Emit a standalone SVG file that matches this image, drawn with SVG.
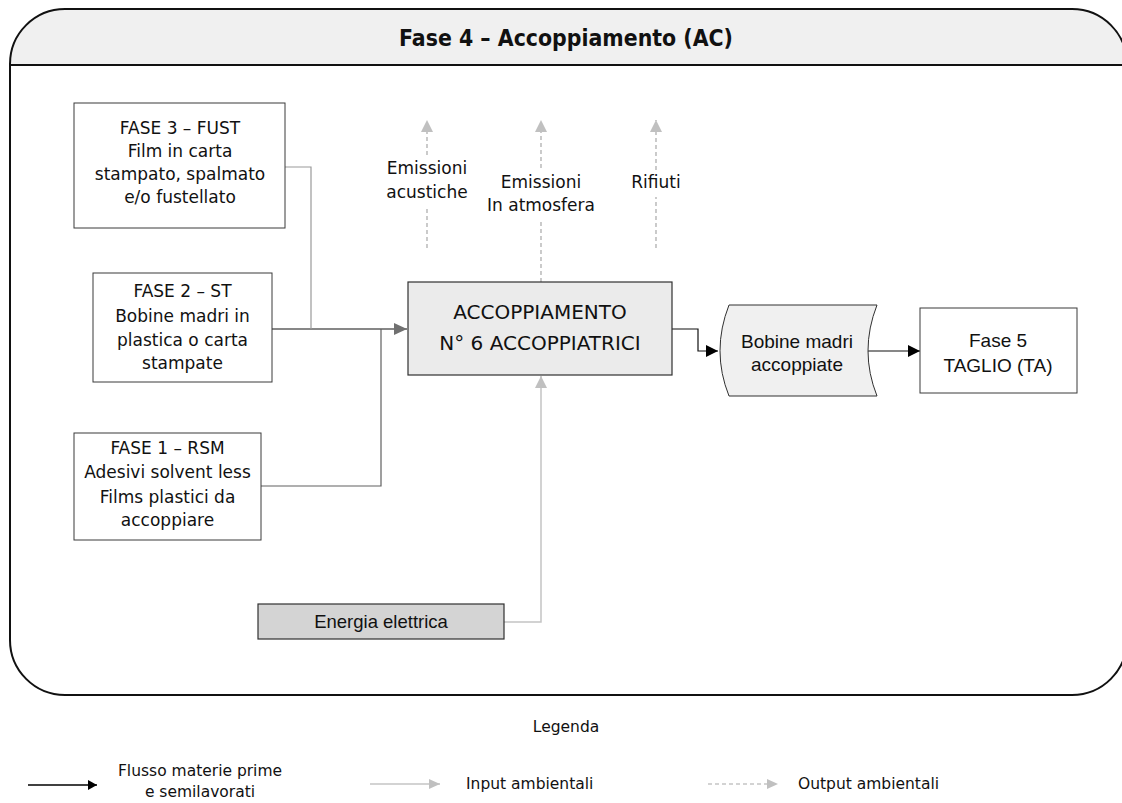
<svg xmlns="http://www.w3.org/2000/svg" width="1122" height="803" viewBox="0 0 1122 803">
  <style>
    .box { fill: #ffffff; stroke: #3a3a3a; stroke-width: 1; }
    .main { fill: #ebebeb; stroke: #303030; stroke-width: 1.2; }
    .grey { fill: #d4d4d4; stroke: #303030; stroke-width: 1.2; }
    .store { fill: #f0f0f0; stroke: #303030; stroke-width: 1; }
    .t { font-family: "DejaVu Sans", Verdana, sans-serif; font-size: 17px; fill: #111; text-anchor: middle; }
    .tm { font-family: "DejaVu Sans", Verdana, sans-serif; font-size: 20px; fill: #111; text-anchor: middle; }
    .ta { font-family: "Liberation Sans", Arial, sans-serif; font-size: 19px; fill: #111; text-anchor: middle; }
    .tl { font-family: "DejaVu Sans", Verdana, sans-serif; font-size: 15.5px; fill: #111; }
    .flow { fill: none; stroke: #111; stroke-width: 1.2; }
    .in { fill: none; stroke: #c4c4c4; stroke-width: 1.5; }
    .out { fill: none; stroke: #a8a8a8; stroke-width: 1.2; stroke-dasharray: 4 3; }
  </style>
  <defs>
    <marker id="aBlack" markerUnits="userSpaceOnUse" markerWidth="12" markerHeight="12" refX="12" refY="6" orient="auto">
      <path d="M0,0 L12,6 L0,12 z" fill="#000"/>
    </marker>
    <marker id="aDark" markerUnits="userSpaceOnUse" markerWidth="13" markerHeight="12" refX="13" refY="6" orient="auto">
      <path d="M0,0 L13,6 L0,12 z" fill="#707070"/>
    </marker>
    <marker id="aLight" markerUnits="userSpaceOnUse" markerWidth="12" markerHeight="12" refX="12" refY="6" orient="auto">
      <path d="M0,0 L12,6 L0,12 z" fill="#c0c0c0"/>
    </marker>
    <marker id="aBlackS" markerUnits="userSpaceOnUse" markerWidth="9" markerHeight="10" refX="9" refY="5" orient="auto">
      <path d="M0,0 L9,5 L0,10 z" fill="#000"/>
    </marker>
    <marker id="aLightS" markerUnits="userSpaceOnUse" markerWidth="11" markerHeight="10" refX="11" refY="5" orient="auto">
      <path d="M0,0 L11,5 L0,10 z" fill="#c0c0c0"/>
    </marker>
  </defs>

  <rect width="1122" height="803" fill="#ffffff"/>

  <!-- outer frame with title band -->
  <g id="frame">
    <path d="M10,65 L10,64 A55,55 0 0 1 65,9 L1072,9 A55,55 0 0 1 1127,64 L1127,65 Z" fill="#f0f0f0"/>
    <path d="M10,64 A55,55 0 0 1 65,9 L1072,9 A55,55 0 0 1 1127,64 L1127,640 A55,55 0 0 1 1072,695 L65,695 A55,55 0 0 1 10,640 Z" fill="none" stroke="#111" stroke-width="2"/>
    <line x1="10" y1="65" x2="1127" y2="65" stroke="#111" stroke-width="2"/>
    <text x="566" y="46" font-family="'DejaVu Sans', Verdana, sans-serif" font-size="23.5" font-weight="bold" fill="#111" text-anchor="middle" textLength="334" lengthAdjust="spacingAndGlyphs">Fase 4 – Accoppiamento (AC)</text>
  </g>

  <!-- connectors -->
  <g id="connectors">
    <path class="flow" d="M272,329 L407,329" stroke="#404040" marker-end="url(#aDark)"/>
    <path class="flow" d="M285,167 L311,167 L311,329" style="stroke:#9a9a9a"/>
    <path class="flow" d="M261,486 L381,486 L381,329" style="stroke:#606060"/>
    <path class="in" d="M504,622 L541,622 L541,376" marker-end="url(#aLight)"/>
    <path class="flow" d="M672,329 L698,329 L698,351 L718,351" marker-end="url(#aBlack)"/>
    <path class="flow" d="M865,351 L920,351" marker-end="url(#aBlack)"/>
    <!-- environmental outputs -->
    <path class="out" d="M427,155 L427,120" marker-end="url(#aLight)"/>
    <path class="out" d="M427,248 L427,208"/>
    <path class="out" d="M541,168 L541,120" marker-end="url(#aLight)"/>
    <path class="out" d="M541,282 L541,220"/>
    <path class="out" d="M656,170 L656,120" marker-end="url(#aLight)"/>
    <path class="out" d="M656,248 L656,197"/>
  </g>

  <g id="fase3">
    <rect class="box" x="74" y="103" width="211" height="125"/>
    <text class="t" x="180" y="134">FASE 3 – FUST</text>
    <text class="t" x="180" y="157">Film in carta</text>
    <text class="t" x="180" y="180">stampato, spalmato</text>
    <text class="t" x="180" y="203">e/o fustellato</text>
  </g>

  <g id="fase2">
    <rect class="box" x="93" y="273" width="179" height="109"/>
    <text class="t" x="182.5" y="297">FASE 2 – ST</text>
    <text class="t" x="182.5" y="322">Bobine madri in</text>
    <text class="t" x="182.5" y="346">plastica o carta</text>
    <text class="t" x="182.5" y="369">stampate</text>
  </g>

  <g id="fase1">
    <rect class="box" x="74" y="433" width="187" height="107"/>
    <text class="t" x="167.5" y="454">FASE 1 – RSM</text>
    <text class="t" x="167.5" y="478">Adesivi solvent less</text>
    <text class="t" x="167.5" y="503">Films plastici da</text>
    <text class="t" x="167.5" y="526">accoppiare</text>
  </g>

  <g id="energia">
    <rect class="grey" x="258" y="604" width="246" height="35"/>
    <text class="ta" x="381" y="628" style="font-size:18.5px">Energia elettrica</text>
  </g>

  <g id="accoppiamento">
    <rect class="main" x="408" y="282" width="264" height="93"/>
    <text class="tm" x="540" y="319">ACCOPPIAMENTO</text>
    <text class="tm" x="540" y="350">N° 6 ACCOPPIATRICI</text>
  </g>

  <g id="emissioni-acustiche">
    <text class="t" x="427" y="174">Emissioni</text>
    <text class="t" x="427" y="198">acustiche</text>
  </g>
  <g id="emissioni-atmosfera">
    <text class="t" x="541" y="188">Emissioni</text>
    <text class="t" x="541" y="211">In atmosfera</text>
  </g>
  <g id="rifiuti">
    <text class="t" x="656" y="188">Rifiuti</text>
  </g>

  <g id="bobine-accoppiate">
    <path class="store" d="M729,305 L877,305 Q859,351 877,396 L729,396 Q711,351 729,305 Z"/>
    <text class="ta" x="797" y="348">Bobine madri</text>
    <text class="ta" x="797" y="371">accoppiate</text>
  </g>

  <g id="fase5">
    <rect class="box" x="920" y="308" width="157" height="85"/>
    <text class="ta" x="998" y="347">Fase 5</text>
    <text class="ta" x="998" y="372">TAGLIO (TA)</text>
  </g>

  <!-- legend -->
  <g id="legenda">
    <text class="tl" x="566" y="732" text-anchor="middle">Legenda</text>
    <path d="M28,785 L97,785" stroke="#000" stroke-width="1.5" fill="none" marker-end="url(#aBlackS)"/>
    <text class="tl" x="200" y="776" text-anchor="middle">Flusso materie prime</text>
    <text class="tl" x="200" y="797" text-anchor="middle">e semilavorati</text>
    <path class="in" d="M370,784 L440,784" marker-end="url(#aLightS)"/>
    <text class="tl" x="466" y="789">Input ambientali</text>
    <path class="out" d="M708,784 L778,784" marker-end="url(#aLightS)"/>
    <text class="tl" x="798" y="789">Output ambientali</text>
  </g>
</svg>
